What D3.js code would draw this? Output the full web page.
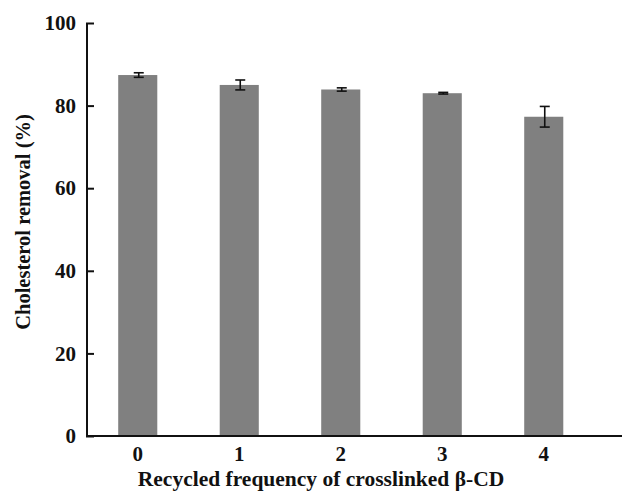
<!DOCTYPE html>
<html>
<head>
<script src="https://d3js.org/d3.v7.min.js"></script>
<style>
  body { margin: 0; background: #fff; }
  text { font-family: "Liberation Serif", "Times New Roman", serif; font-weight: bold; }
</style>
</head>
<body>
<script>
var width = 622, height = 491;

// data
var cycles = ["0", "1", "2", "3", "4"];
var removal = [87.4, 85.0, 83.9, 83.0, 77.3];
var errs = [0.55, 1.2, 0.4, 0.2, 2.5];
var yTicks = [0, 20, 40, 60, 80, 100];

var padL = 87, padR = 594.5, padT = 23, padB = 436;

var svg = d3.select("body").append("svg")
  .attr("width", width)
  .attr("height", height);

var x = d3.scaleBand()
  .domain(cycles)
  .range([padL, padR])
  .paddingInner(0.615)
  .paddingOuter(0.3075);

var y = d3.scaleLinear()
  .domain([0, 100])
  .range([padB, padT]);

// bars
svg.selectAll("rect.bar")
  .data(removal)
  .enter()
  .append("rect")
  .attr("class", "bar")
  .attr("x", function(d, i) { return x(cycles[i]); })
  .attr("y", function(d) { return y(d); })
  .attr("width", x.bandwidth())
  .attr("height", function(d) { return y(0) - y(d); })
  .attr("fill", "#808080");

// error bars
var eb = svg.selectAll("g.err")
  .data(removal)
  .enter()
  .append("g")
  .attr("class", "err")
  .attr("stroke", "#111")
  .attr("stroke-width", 1.6);

function cx(i) { return x(cycles[i]) + x.bandwidth() / 2 + 1; }

eb.append("line")
  .attr("x1", function(d, i) { return cx(i); })
  .attr("x2", function(d, i) { return cx(i); })
  .attr("y1", function(d, i) { return y(d + errs[i]); })
  .attr("y2", function(d, i) { return y(d - errs[i]); });

[1, -1].forEach(function(s) {
  eb.append("line")
    .attr("x1", function(d, i) { return cx(i) - 5; })
    .attr("x2", function(d, i) { return cx(i) + 5; })
    .attr("y1", function(d, i) { return y(d + s * errs[i]); })
    .attr("y2", function(d, i) { return y(d + s * errs[i]); });
});

// y axis
var yAxis = svg.append("g")
  .attr("transform", "translate(" + padL + ",0)")
  .call(d3.axisRight(y).tickValues(yTicks).tickSize(7).tickFormat(d3.format("d")));
yAxis.select(".domain").attr("d", "M0," + padT + "V" + padB).attr("stroke", "#111").attr("stroke-width", 2);
yAxis.selectAll(".tick line").attr("stroke", "#111").attr("stroke-width", 2).attr("x1", -1);
yAxis.selectAll(".tick text")
  .attr("x", -11)
  .attr("text-anchor", "end")
  .attr("font-size", 21)
  .attr("fill", "#111")
  .attr("font-family", null);

// x axis
var xAxis = svg.append("g")
  .attr("transform", "translate(0," + padB + ")")
  .call(d3.axisBottom(x).tickSize(0).tickPadding(10));
xAxis.select(".domain").attr("d", "M" + (padL - 1) + ",0H" + width).attr("stroke", "#111").attr("stroke-width", 2);
xAxis.selectAll(".tick text")
  .attr("font-size", 21)
  .attr("fill", "#111")
  .attr("font-family", null);

// axis titles
svg.append("text")
  .attr("x", 321)
  .attr("y", 486)
  .attr("text-anchor", "middle")
  .attr("font-size", 21.5)
  .attr("fill", "#111")
  .text("Recycled frequency of crosslinked β-CD");

svg.append("text")
  .attr("transform", "translate(30,222) rotate(-90)")
  .attr("text-anchor", "middle")
  .attr("font-size", 20.5)
  .attr("fill", "#111")
  .text("Cholesterol removal (%)");
</script>
</body>
</html>
